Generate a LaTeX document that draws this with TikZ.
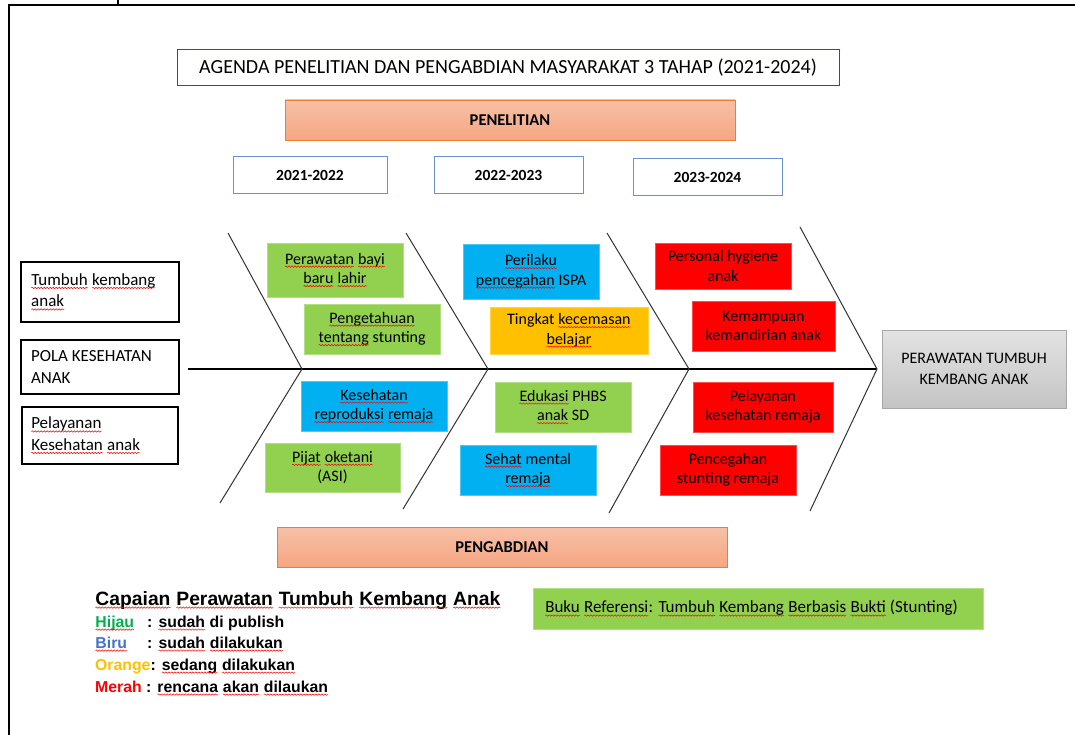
\documentclass[tikz,border=0pt]{standalone}
\usepackage{fontspec}
\setmainfont{Carlito}
\newfontfamily\arialfont{Liberation Sans}
\usetikzlibrary{decorations.pathmorphing}

\definecolor{hijau}{HTML}{92D050}
\definecolor{biru}{HTML}{00B0F0}
\definecolor{oranye}{HTML}{FFC000}
\definecolor{merah}{HTML}{FF0000}
\definecolor{salmtop}{HTML}{F7C0A7}
\definecolor{salmbot}{HTML}{F5A682}
\definecolor{salmline}{HTML}{ED7D31}
\definecolor{yearline}{HTML}{6A8FD2}
\definecolor{greytop}{HTML}{E3E3E3}
\definecolor{greybot}{HTML}{C4C4C4}
\definecolor{greyline}{HTML}{A8A8A8}
\definecolor{leghijau}{HTML}{00B050}
\definecolor{legbiru}{HTML}{4472C4}

\tikzset{
  wavy/.style={draw=red, line width=0.5pt, decorate,
    decoration={snake, amplitude=0.7pt, segment length=3pt}},
  item/.style={inner sep=0pt, align=center, draw=#1!70!white, fill=#1,
    line width=0.6pt, font=\fontsize{16}{19.5}\selectfont},
  side/.style={draw=black, line width=1.2pt, inner sep=0pt, text width=138pt,
    align=flush left, font=\fontsize{17}{21.5}\selectfont},
  phase/.style={top color=salmtop, bottom color=salmbot, draw=salmline,
    line width=0.8pt, inner sep=0pt, minimum width=450pt, minimum height=40pt,
    font=\fontsize{16.5}{18}\selectfont\bfseries},
  yearbox/.style={draw=yearline, line width=1pt, inner sep=0pt,
    minimum height=37pt, font=\fontsize{15.5}{18}\selectfont\bfseries},
  bone/.style={draw=black!80, line width=1pt},
  legline/.style={anchor=base west, inner sep=0pt,
    font=\arialfont\fontsize{15.8}{17}\selectfont\bfseries},
}

% red spell-check underline
\newcommand{\wv}[1]{\tikz[baseline=(w.base)]{\node[inner sep=0pt, outer sep=0pt,
  minimum width=0pt, minimum height=0pt, text width=] (w) {#1};
  \draw[wavy] ([yshift=-2.6pt]w.base west) -- ([yshift=-2.6pt]w.base east);}}

\begin{document}
\begin{tikzpicture}[x=1pt, y=-1pt]
\useasboundingbox (0,0) rectangle (1075,735);

% Frame
\draw[line width=2.4pt] (8,5) -- (1075,5);
\draw[line width=2.4pt] (9,5) -- (9,735);
\draw[line width=1.5pt] (118,0) -- (118,5);

% Title and phases
\node[draw=red, line width=1pt, inner sep=0pt, minimum width=662pt, minimum height=36pt,
  font=\fontsize{20}{22}\selectfont] (judul) at (508,68)
  {AGENDA PENELITIAN DAN PENGABDIAN MASYARAKAT 3 TAHAP (2021-2024)};
\node[phase] (penelitian) at (510,120) {PENELITIAN};
\node[phase] (pengabdian) at (502,547) {PENGABDIAN};

% Years
\node[yearbox, minimum width=154pt] (th1) at (310,175) {2021-2022};
\node[yearbox, minimum width=149pt] (th2) at (508.5,175) {2022-2023};
\node[yearbox, minimum width=149pt] (th3) at (707.5,177) {2023-2024};

% Left boxes
\node[side, minimum width=158pt, minimum height=60pt] (tumbuh) at (100,292)
  {\wv{Tumbuh} \wv{kembang}\\\wv{anak}};
\node[side, minimum width=158pt, minimum height=54pt] (pola) at (100,367)
  {POLA KESEHATAN\\ANAK};
\node[side, minimum width=156pt, minimum height=57pt] (pelayanan) at (100,435.5)
  {\wv{Pelayanan}\\\wv{Kesehatan} \wv{anak}};

% Fishbone
\draw[line width=1.2pt] (188,369) -- (877,369);
\foreach \xt/\yt/\xm/\xb/\yb in {228/233/302/220/503, 406/233/488/403/509,
    607/233/689/609/513, 800/227/877/810/511}
  \draw[bone] (\xt,\yt) -- (\xm,369) -- (\xb,\yb);

% 2021-2022
\node[item=hijau, minimum width=136pt, minimum height=54pt] (bayi) at (335,270)
  {\wv{Perawatan} \wv{bayi}\\\wv{baru} \wv{lahir}};
\node[item=hijau, minimum width=136pt, minimum height=50pt] (stunting) at (372,329)
  {\wv{Pengetahuan}\\\wv{tentang} stunting};
\node[item=biru, minimum width=146pt, minimum height=50pt] (repro) at (374,406)
  {\wv{Kesehatan}\\\wv{reproduksi} \wv{remaja}};
\node[item=hijau, minimum width=135pt, minimum height=49pt] (pijat) at (332.5,467.5)
  {\wv{Pijat} \wv{oketani}\\(ASI)};

% 2022-2023
\node[item=biru, minimum width=136pt, minimum height=55pt] (ispa) at (531,271.5)
  {\wv{Perilaku}\\\wv{pencegahan} ISPA};
\node[item=oranye, minimum width=158pt, minimum height=47pt] (cemas) at (569,330.5)
  {Tingkat \wv{kecemasan}\\\wv{belajar}};
\node[item=hijau, minimum width=136pt, minimum height=50pt] (phbs) at (563,407)
  {\wv{Edukasi} PHBS\\\wv{anak} SD};
\node[item=biru, minimum width=136pt, minimum height=50pt] (mental) at (528,470)
  {\wv{Sehat} mental\\\wv{remaja}};

% 2023-2024
\node[item=merah, minimum width=136pt, minimum height=46pt] (hygiene) at (723,266)
  {Personal hygiene\\anak};
\node[item=merah, minimum width=143pt, minimum height=50pt] (mandiri) at (763.5,326)
  {Kemampuan\\kemandirian anak};
\node[item=merah, minimum width=140pt, minimum height=50pt] (remaja) at (763,407)
  {Pelayanan\\kesehatan remaja};
\node[item=merah, minimum width=136pt, minimum height=50pt] (cegah) at (728,470)
  {Pencegahan\\stunting remaja};

% Goal
\node[top color=greytop, bottom color=greybot, draw=greyline, line width=1pt,
  inner sep=0pt, align=center, minimum width=184pt, minimum height=78pt,
  font=\fontsize{16}{21}\selectfont] (tujuan) at (974,369) {PERAWATAN TUMBUH\\KEMBANG ANAK};

% Legend
\node[legline, font=\arialfont\fontsize{19.3}{22}\selectfont\bfseries] (capaian) at (95,605)
  {\wv{Capaian} \wv{Perawatan} \wv{Tumbuh} \wv{Kembang} \wv{Anak}};
\node[legline] (lhijau) at (95,627) {\makebox[52pt][l]{\color{leghijau}\wv{Hijau}}: \wv{sudah} di publish};
\node[legline] (lbiru) at (95,648) {\makebox[52pt][l]{\color{legbiru}\wv{Biru}}: \wv{sudah} \wv{dilakukan}};
\node[legline] (loranye) at (95,670) {{\color{oranye}Orange}: \wv{sedang} \wv{dilakukan}};
\node[legline] (lmerah) at (95,692) {{\color{merah}Merah} : \wv{rencana} \wv{akan} \wv{dilaukan}};

% Reference book
\node[fill=hijau, draw=hijau!70!white, line width=0.6pt, inner sep=0pt, text width=426pt,
  align=flush left, minimum width=450pt, minimum height=41pt,
  font=\fontsize{17}{19}\selectfont] (buku) at (758,608.5)
  {\wv{Buku} \wv{Referensi}: \wv{Tumbuh} \wv{Kembang} \wv{Berbasis} \wv{Bukti} (Stunting)};

\end{tikzpicture}
\end{document}
